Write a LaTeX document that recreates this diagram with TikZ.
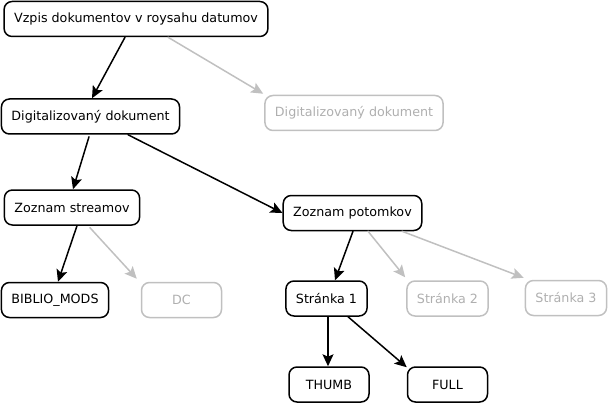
\documentclass[tikz,border=0pt]{standalone}
\usepackage{fontspec}
\setmainfont{DejaVu Sans}
\usetikzlibrary{arrows.meta}
\definecolor{fadegray}{RGB}{192,192,192}
\definecolor{fadetext}{RGB}{175,175,175}

\begin{document}
\begin{tikzpicture}[line cap=round,line join=round,x=1pt,y=-1pt,
	font=\fontsize{12.7}{15}\selectfont,
	box/.style={draw,line width=1.5pt,rounded corners=8pt,inner xsep=10pt,minimum height=35pt,minimum width=80pt},
	fadebox/.style={box,draw=fadegray,text=fadetext},
	edge/.style={line width=1.5pt,-{Stealth[length=12pt,width=11pt,inset=2.5pt]}},
	fadeedge/.style={edge,fadegray}]
		\useasboundingbox (0,0) rectangle (609,406);
		\node[box] (vzpis) at (136,19) {Vzpis dokumentov v roysahu datumov};
		\node[box] (dig) at (90.5,116.5) {Digitalizovaný dokument};
		\node[fadebox] (diggray) at (354,113) {Digitalizovaný dokument};
		\node[box] (streamy) at (72,207.5) {Zoznam streamov};
		\node[box] (biblio) at (55,300) {BIBLIO\_MODS};
		\node[fadebox] (dc) at (181.5,300) {DC};
		\node[box] (potomci) at (352.5,213) {Zoznam potomkov};
		\node[box] (strana1) at (326.5,298.5) {Stránka 1};
		\node[fadebox] (strana2) at (447.5,298.5) {Stránka 2};
		\node[fadebox] (strana3) at (566,298) {Stránka 3};
		\node[box] (thumb) at (329,384.5) {THUMB};
		\node[box] (full) at (447.5,384.5) {FULL};
		% spoje
		\draw[edge] ([xshift=-11pt]vzpis.south) -- ([xshift=1.5pt]dig.north);
		\draw[fadeedge] ([xshift=32pt]vzpis.south) -- ([xshift=-1pt,yshift=1pt]diggray.north west);
		\draw[edge] ([xshift=-1.5pt,yshift=-2pt]dig.south) -- ([xshift=1pt]streamy.north);
		\draw[edge] ([xshift=37.5pt]dig.south) -- (potomci.west);
		\draw[edge] ([xshift=5pt]streamy.south) -- ([xshift=3pt]biblio.north);
		\draw[fadeedge] ([xshift=18pt,yshift=-2pt]streamy.south) -- ([xshift=-4pt,yshift=3pt]dc.north west);
		\draw[edge] ([xshift=0.5pt]potomci.south) -- ([xshift=8.5pt]strana1.north);
		\draw[fadeedge] ([xshift=15.5pt]potomci.south) -- ([xshift=-1pt,yshift=3pt]strana2.north west);
		\draw[fadeedge] ([xshift=49.5pt]potomci.south) -- ([xshift=-1pt,yshift=2pt]strana3.north west);
		\draw[edge] ([xshift=1.5pt]strana1.south) -- ([xshift=-1pt]thumb.north);
		\draw[edge] ([xshift=21.5pt]strana1.south) -- ([yshift=-1pt]full.north west);
	\end{tikzpicture}
\end{document}
